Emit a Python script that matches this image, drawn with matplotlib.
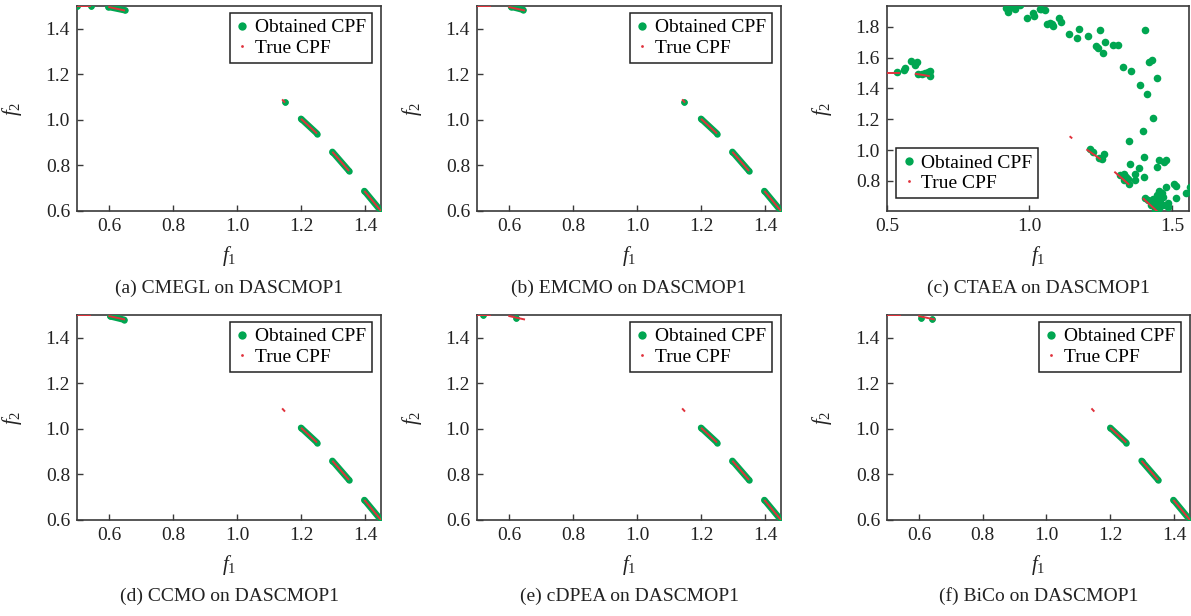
import matplotlib
matplotlib.use("Agg")
import matplotlib.pyplot as plt
from matplotlib.lines import Line2D

plt.rcParams["font.family"] = ["Liberation Serif", "DejaVu Serif"]
plt.rcParams["mathtext.fontset"] = "custom"
plt.rcParams["mathtext.rm"] = "Liberation Serif"
plt.rcParams["mathtext.it"] = "Liberation Serif:italic"

GREEN = "#00A651"
RED = "#E0323C"
SPINE = "#3a3a3a"

# True constrained Pareto front of DASCMOP1: disconnected pieces (start, end)
true_f1 = [(0.500, 0.545), (0.598, 0.650), (1.141, 1.150),
           (1.200, 1.250), (1.298, 1.350), (1.398, 1.450)]
true_f2 = [(1.500, 1.500), (1.496, 1.480), (1.090, 1.076),
           (1.005, 0.940), (0.860, 0.776), (0.688, 0.600)]

# Obtained fronts, stored as pieces (start, end); a single solution has start == end
cmegl_f1 = [(0.500, 0.500), (0.544, 0.544), (0.598, 0.650), (1.150, 1.150),
            (1.200, 1.250), (1.298, 1.350), (1.398, 1.450)]
cmegl_f2 = [(1.500, 1.500), (1.500, 1.500), (1.496, 1.481), (1.077, 1.077),
            (1.005, 0.940), (0.860, 0.776), (0.688, 0.600)]

emcmo_f1 = [(0.606, 0.645), (1.148, 1.148),
            (1.200, 1.250), (1.298, 1.350), (1.398, 1.450)]
emcmo_f2 = [(1.497, 1.483), (1.080, 1.080),
            (1.005, 0.940), (0.860, 0.776), (0.688, 0.600)]

ccmo_f1 = [(0.604, 0.648), (1.200, 1.250), (1.298, 1.350), (1.398, 1.450)]
ccmo_f2 = [(1.494, 1.479), (1.005, 0.940), (0.860, 0.776), (0.688, 0.600)]

cdpea_f1 = [(0.518, 0.518), (0.622, 0.622),
            (1.200, 1.250), (1.298, 1.350), (1.398, 1.450)]
cdpea_f2 = [(1.500, 1.500), (1.489, 1.489),
            (1.005, 0.940), (0.860, 0.776), (0.688, 0.600)]

bico_f1 = [(0.607, 0.607), (0.642, 0.642),
           (1.200, 1.250), (1.298, 1.350), (1.398, 1.450)]
bico_f2 = [(1.488, 1.488), (1.481, 1.481),
           (1.005, 0.940), (0.860, 0.776), (0.688, 0.600)]

# CTAEA final population (individual solutions)
ctaea_f1 = [0.536, 0.559, 0.564, 0.583, 0.597, 0.604, 0.610, 0.622, 0.634, 0.643,
            0.650, 0.650, 0.918, 0.924, 0.938, 0.950, 0.966, 0.992, 1.013, 1.017,
            1.036, 1.041, 1.055, 1.062, 1.071, 1.078, 1.083, 1.104, 1.111, 1.140,
            1.167, 1.174, 1.207, 1.247, 1.233, 1.240, 1.258, 1.265, 1.292, 1.312,
            1.406, 1.421, 1.429, 1.329, 1.357, 1.447, 1.389, 1.412, 1.433, 1.398,
            1.349, 1.401, 1.455, 1.471, 1.480, 1.448, 1.352, 1.386, 1.372, 1.401,
            1.371, 1.319, 1.331, 1.339, 1.345, 1.333, 1.349, 1.212, 1.222, 1.245,
            1.255, 1.261, 1.406, 1.417, 1.433, 1.441, 1.448, 1.456, 1.464, 1.470,
            1.459, 1.450, 1.468, 1.478, 1.485, 1.487, 1.508, 1.515, 1.513, 1.551,
            1.565, 1.439, 1.456, 1.427]
ctaea_f2 = [1.504, 1.522, 1.533, 1.578, 1.554, 1.572, 1.496, 1.496, 1.500, 1.509,
            1.513, 1.483, 1.924, 1.895, 1.930, 1.917, 1.939, 1.859, 1.887, 1.869,
            1.913, 1.917, 1.908, 1.815, 1.826, 1.821, 1.804, 1.858, 1.830, 1.752,
            1.728, 1.789, 1.739, 1.782, 1.674, 1.661, 1.631, 1.700, 1.685, 1.685,
            1.780, 1.574, 1.582, 1.539, 1.513, 1.468, 1.420, 1.361, 1.207, 1.124,
            1.059, 0.957, 0.935, 0.924, 0.935, 0.892, 0.908, 0.881, 0.846, 0.827,
            0.803, 0.838, 0.842, 0.827, 0.812, 0.805, 0.781, 1.007, 0.990, 0.950,
            0.942, 0.975, 0.690, 0.675, 0.686, 0.653, 0.707, 0.734, 0.725, 0.696,
            0.675, 0.642, 0.642, 0.762, 0.660, 0.631, 0.777, 0.764, 0.690, 0.725,
            0.762, 0.610, 0.625, 0.642]

captions = ["(a) CMEGL on DASCMOP1", "(b) EMCMO on DASCMOP1", "(c) CTAEA on DASCMOP1",
            "(d) CCMO on DASCMOP1", "(e) cDPEA on DASCMOP1", "(f) BiCo on DASCMOP1"]

W, H = 1191, 616
fig = plt.figure(figsize=(W / 100, H / 100), dpi=100, facecolor="white")

# axes boxes in pixels: left, top, right, bottom
boxes = [(77, 6, 381, 211), (477, 6, 781, 211), (887, 6, 1189, 211),
         (77, 315, 381, 520), (477, 315, 781, 520), (887, 315, 1190, 520)]


def make_axes(box):
    l, t, r, b = box
    return fig.add_axes([l / W, 1 - b / H, (r - l) / W, (b - t) / H])


def style(ax, xlim, ylim, xticks, yticks):
    ax.set_xlim(*xlim)
    ax.set_ylim(*ylim)
    ax.set_xticks(xticks)
    ax.set_yticks(yticks)
    ax.set_xticklabels([f"{v:.1f}" for v in xticks])
    ax.set_yticklabels([f"{v:.1f}" for v in yticks])
    ax.tick_params(direction="in", length=4, width=1.0, labelsize=14,
                   color=SPINE, labelcolor="#222222", pad=5)
    for s in ax.spines.values():
        s.set_color(SPINE)
        s.set_linewidth(1.2)
    ax.set_xlabel("$f_1$", fontsize=15, color="#222222")
    ax.set_ylabel("$f_2$", fontsize=15, color="#222222")
    ax.xaxis.set_label_coords(0.5, -0.16)
    ax.yaxis.set_label_coords(-0.175, 0.5)


def draw_true(ax):
    for xs, ys in zip(true_f1, true_f2):
        ax.plot(xs, ys, color=RED, lw=1.4, solid_capstyle="butt", zorder=4)


def draw_pieces(ax, f1, f2):
    for xs, ys in zip(f1, f2):
        ax.plot(xs, ys, color=GREEN, lw=4.6, solid_capstyle="round",
                marker="o", ms=4.6, mew=0, zorder=3)


def add_legend(ax, loc, anchor):
    handles = [Line2D([], [], ls="", marker="o", ms=6, mew=0, color=GREEN),
               Line2D([], [], ls="", marker="o", ms=2, mew=0, color=RED)]
    leg = ax.legend(handles, ["Obtained CPF", "True CPF"], loc=loc,
                    bbox_to_anchor=anchor, fontsize=14, frameon=True,
                    fancybox=False, framealpha=1, edgecolor="#222222",
                    borderpad=0.3, handlelength=0.7, handletextpad=0.3,
                    labelspacing=0.15, borderaxespad=0)
    leg.get_frame().set_linewidth(1.1)


front_f1 = [cmegl_f1, emcmo_f1, None, ccmo_f1, cdpea_f1, bico_f1]
front_f2 = [cmegl_f2, emcmo_f2, None, ccmo_f2, cdpea_f2, bico_f2]
std_ticks = [0.6, 0.8, 1.0, 1.2, 1.4]

for i, box in enumerate(boxes):
    ax = make_axes(box)
    if i == 2:
        ax.scatter(ctaea_f1, ctaea_f2, s=30, color=GREEN, linewidths=0, zorder=3)
        draw_true(ax)
        style(ax, (0.5, 1.56), (0.605, 1.935), [0.5, 1.0, 1.5],
              [0.8, 1.0, 1.2, 1.4, 1.6, 1.8])
        add_legend(ax, "lower left", (0.03, 0.063))
    else:
        draw_pieces(ax, front_f1[i], front_f2[i])
        draw_true(ax)
        style(ax, (0.5, 1.45), (0.6, 1.5), std_ticks, std_ticks)
        add_legend(ax, "upper right", (0.97, 0.966))
    l, t, r, b = box
    cy = 288 if i < 3 else 596
    fig.text((l + r) / 2 / W, 1 - cy / H, captions[i], ha="center", va="center",
             fontsize=14, color="#222222")

fig.savefig("out.png", dpi=100, facecolor="white")
